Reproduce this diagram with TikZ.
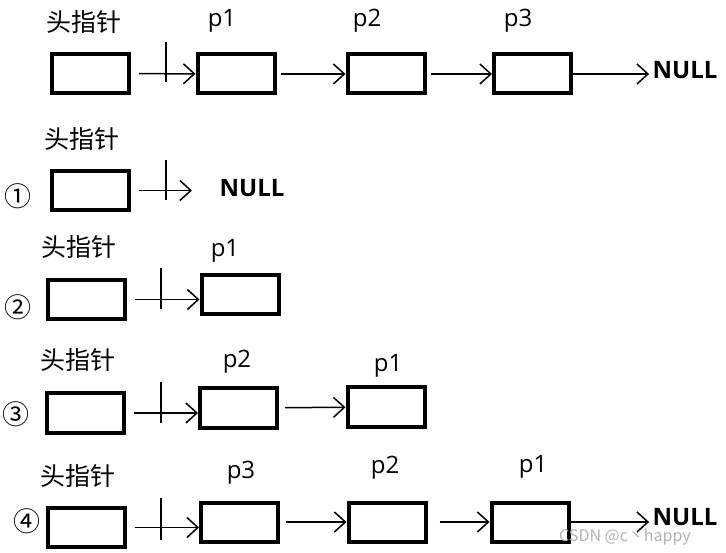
\documentclass[tikz,border=0pt]{standalone}
\usepackage{fontspec}
\setmainfont{Open Sans}
\newfontfamily\cjk{Noto Sans CJK SC}
\usetikzlibrary{arrows.meta}

\tikzset{
    box/.style={draw, line width=4pt, minimum width=77pt, minimum height=39pt, inner sep=0pt},
    lbl/.style={font=\fontsize{24}{24}\selectfont},
    head/.style={font=\cjk\fontsize{25}{25}\selectfont},
    nulltxt/.style={font=\bfseries\fontsize{24}{24}\selectfont},
    stepnum/.style={font=\cjk\fontsize{27}{27}\selectfont},
    link/.style={line width=1.5pt, -{Straight Barb[length=11pt,width=20pt,line width=1.5pt]}},
    cut/.style={line width=2pt}
}

\begin{document}
\begin{tikzpicture}[x=1pt, y=-1pt]
    \useasboundingbox (0,0) rectangle (726,553);

    % Original list: head -> p1 -> p2 -> p3 -> NULL
    \node[head] (t0) at (84,22) {头指针};
    \node[box] (h0) at (90.5,73.5) {};
    \node[box] (a1) at (236,74) {};
    \node[box] (a2) at (386,74) {};
    \node[box] (a3) at (532.5,74) {};
    \node[lbl] (l1) at (222,21) {p1};
    \node[lbl] (l2) at (367,21) {p2};
    \node[lbl] (l3) at (518,21) {p3};
    \node[nulltxt] (n0) at (685,70) {NULL};
    \draw[link, shorten <=8pt] (h0) -- (a1);
    \draw[cut] (166,42) -- (166,82); % link cut
    \draw[link, shorten <=4pt] (a1) -- (a2);
    \draw[link, shorten <=4pt] (a2) -- (a3);
    \draw[link] (a3) -- (n0.west |- a3);

    % Step 1: head -> NULL
    \node[stepnum] (s1) at (18,196) {①};
    \node[head] (t1) at (82,139) {头指针};
    \node[box] (h1) at (90,190.5) {};
    \node[nulltxt] (n1) at (252,188) {NULL};
    \coordinate (e1) at (192,190.5);
    \draw[link, shorten <=8pt] (h1) -- (e1);
    \draw[cut] (166,160) -- (166,200); % link cut

    % Step 2: head -> p1
    \node[stepnum] (s2) at (18,307) {②};
    \node[head] (t2) at (79,247) {头指针};
    \node[box] (h2) at (86.5,299.5) {};
    \node[box] (b1) at (240,294.5) {};
    \node[lbl] (m1) at (225,251) {p1};
    \draw[link, shorten <=8pt] (h2.east) -- (b1.west |- h2.east);
    \draw[cut] (161,268) -- (161,309); % link cut

    % Step 3: head -> p2 -> p1
    \node[stepnum] (s3) at (16,414) {③};
    \node[head] (t3) at (78,360) {头指针};
    \node[box] (h3) at (85.5,413) {};
    \node[box] (c2) at (238.5,408) {};
    \node[box] (c1) at (386,407) {};
    \node[lbl] (k2) at (237,362) {p2};
    \node[lbl] (k1) at (388,366) {p1};
    \draw[link, shorten <=8pt] (h3.east) -- (c2.west |- h3.east);
    \draw[cut] (161,382) -- (161,423); % link cut
    \draw[link, shorten <=6pt] (c2) -- (c1);

    % Step 4: head -> p3 -> p2 -> p1 -> NULL
    \node[stepnum] (s4) at (27,521) {④};
    \node[head] (t4) at (78,476) {头指针};
    \node[box] (h4) at (86,527.5) {};
    \node[box] (d3) at (239.5,522) {};
    \node[box] (d2) at (387,522) {};
    \node[box] (d1) at (530,522) {};
    \node[lbl] (j3) at (241,473) {p3};
    \node[lbl] (j2) at (385,468) {p2};
    \node[lbl] (j1) at (533,467) {p1};
    \node[nulltxt] (n4) at (685,517) {NULL};
    \draw[link, shorten <=8pt] (h4.east) -- (d3.west |- h4.east);
    \draw[cut] (161,498) -- (161,540); % link cut
    \draw[link, shorten <=6pt] (d3) -- (d2);
    \draw[link, shorten <=12pt] (d2) -- (d1);
    \draw[link] (d1) -- (n4.west |- d1);

    % watermark
    \node[font=\cjk\fontsize{16}{16}\selectfont, text=gray!60] (wm) at (625,537) {CSDN @c丶happy};
\end{tikzpicture}
\end{document}
